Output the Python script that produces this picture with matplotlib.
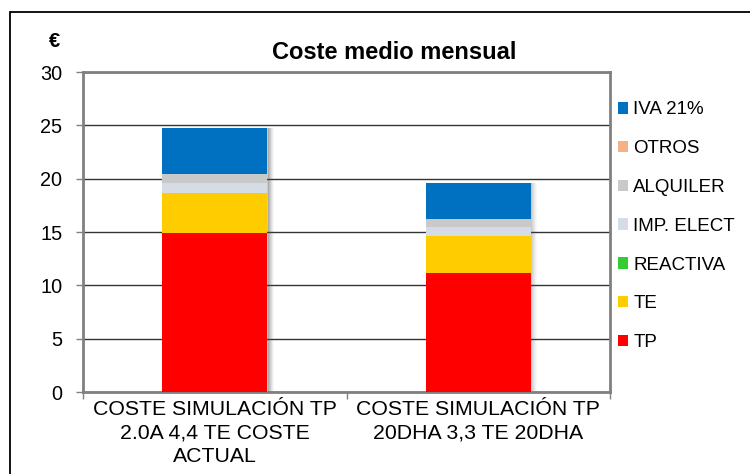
import matplotlib
matplotlib.use("Agg")
import matplotlib.pyplot as plt
from matplotlib.patches import Rectangle
import numpy as np

plt.rcParams['font.family'] = ['Liberation Sans', 'DejaVu Sans']

categories = ["COSTE SIMULACIÓN TP\n2.0A 4,4 TE COSTE\nACTUAL",
              "COSTE SIMULACIÓN TP\n20DHA 3,3 TE 20DHA"]
series_names = ["TP", "TE", "REACTIVA", "IMP. ELECT", "ALQUILER", "OTROS", "IVA 21%"]
tp = [14.9, 11.2]
te = [3.75, 3.45]
reactiva = [0.0, 0.0]
imp_elect = [0.95, 0.8]
alquiler = [0.8, 0.75]
otros = [0.0, 0.0]
iva = [4.35, 3.4]
colors = ["#FF0000", "#FFCC00", "#33CC33", "#D6DCE5", "#C9C9C9", "#F4B183", "#0070C0"]
yticks = [0, 5, 10, 15, 20, 25, 30]

series = [tp, te, reactiva, imp_elect, alquiler, otros, iva]

fig = plt.figure(figsize=(7.5, 4.74), dpi=100)
ax = fig.add_axes([83/750, 1 - 392/474, (610-83)/750, (392-72)/474])

x = np.arange(len(categories))
width = 0.4
totals = np.sum(np.array(series), axis=0)

# soft drop shadow to the right of each stacked column
shadow_alpha = [0.30, 0.24, 0.18, 0.12, 0.07, 0.03]
for k, a in enumerate(shadow_alpha):
    ax.bar(x + width/2 + k*0.0038, totals, width=0.0042, bottom=0,
           color="#505050", alpha=a, linewidth=0, zorder=2, align="edge")

bottom = np.zeros(len(categories))
handles = []
for name, vals, col in zip(series_names, series, colors):
    b = ax.bar(x, vals, width=width, bottom=bottom, color=col, linewidth=0,
               zorder=3, label=name)
    handles.append(b)
    bottom += np.array(vals)

ax.set_xlim(-0.5, 1.5)
ax.set_ylim(0, 30)
ax.set_yticks(yticks)
ax.set_xticks(x)
ax.set_xticklabels(categories, fontsize=15.3, linespacing=1.3)
ax.tick_params(axis='y', labelsize=14.3, length=5, width=1, color="#808080", pad=10)
ax.tick_params(axis='x', length=0, pad=6)
# category separators on the x axis
ax.set_xticks([-0.5, 0.5, 1.5], minor=True)
ax.tick_params(axis='x', which='minor', length=5, width=1, color="#808080")

ax.grid(axis='y', color="#333333", linewidth=1.0, zorder=0)
ax.set_axisbelow(True)
for s in ax.spines.values():
    s.set_color("#808080")
    s.set_linewidth(2)

fig.text(394/750, 1 - 59/474, "Coste medio mensual", ha="center", va="baseline",
         fontsize=17, fontweight="bold")
fig.text(55/750, 1 - 47/474, "€", ha="center", va="baseline",
         fontsize=14.5, fontweight="bold")

leg = fig.legend(handles[::-1], series_names[::-1], loc="upper left",
                 bbox_to_anchor=(610/750, 1 - 94/474), frameon=False,
                 fontsize=13.5, handlelength=0.55, handleheight=0.55,
                 handletextpad=0.3, labelspacing=1.16, borderaxespad=0)

# outer chart frame
fig.patches.append(Rectangle((10/750, -0.05), 1.0, 1 - 12/474 + 0.05,
                             transform=fig.transFigure, fill=False,
                             edgecolor="black", linewidth=1.3))

fig.savefig("out.png", dpi=100)
